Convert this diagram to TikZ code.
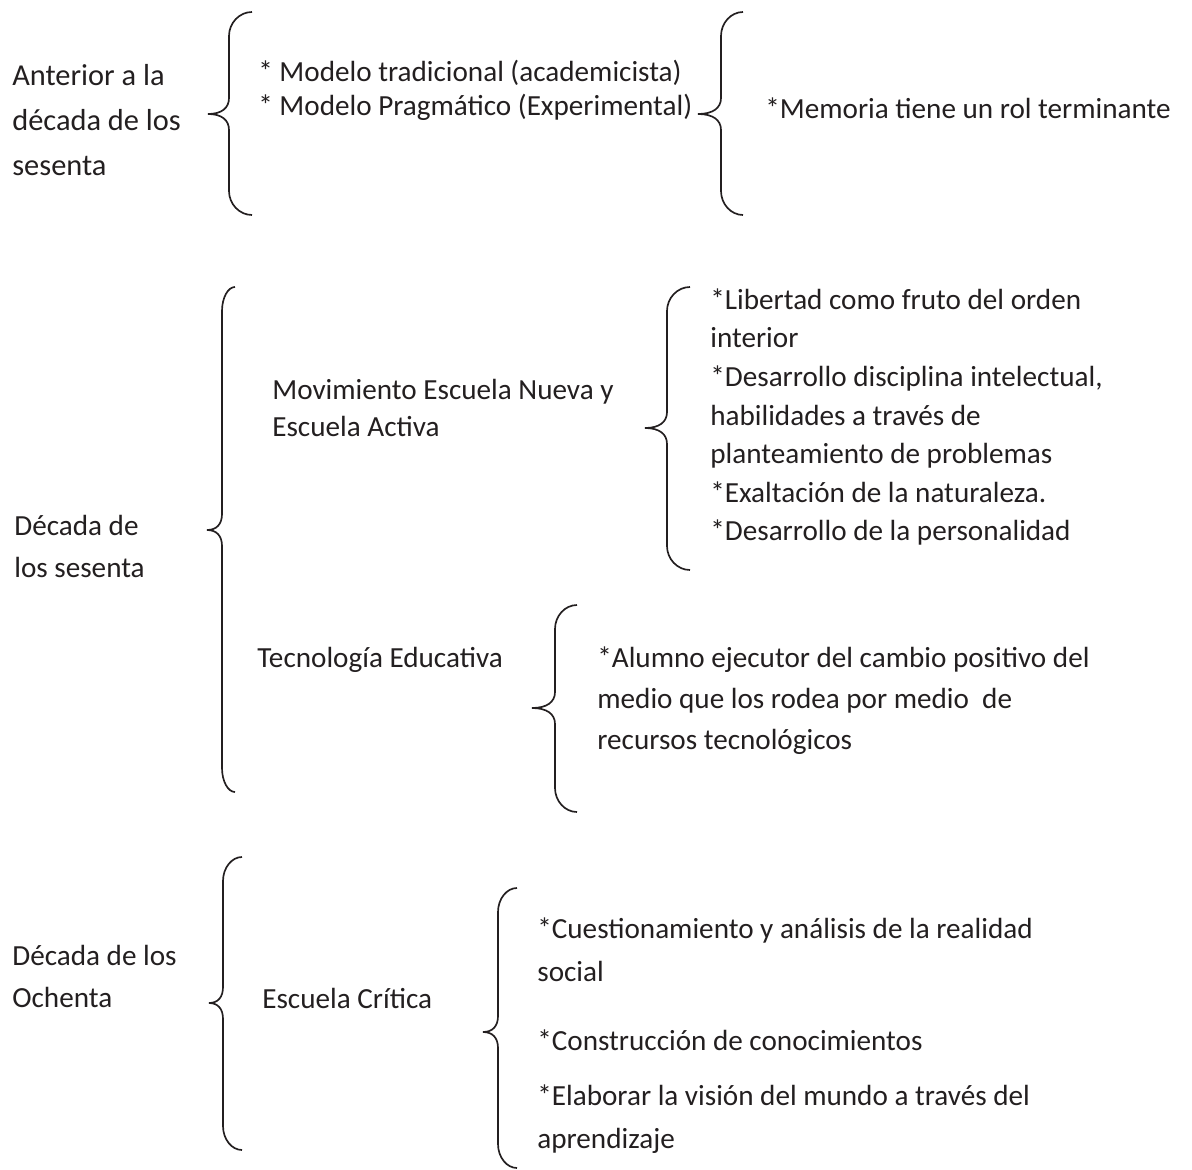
\documentclass[tikz,border=0pt]{standalone}
\usepackage{fontspec}
\setmainfont{Carlito}
\usepackage{tikz}
\usetikzlibrary{positioning}

\definecolor{inkgray}{HTML}{231F20}

% Word style curly brace: end x, stem x, tip x, top y, tip y, bottom y
\newcommand{\wordbrace}[6]{%
  \draw[brace line] (#1,#4)
    .. controls ({#2+0.45*(#1-#2)},#4) and (#2,#4+11) .. (#2,#4+24)
    -- (#2,#5-16)
    .. controls (#2,#5-6) and ({#2-0.35*(#2-#3)},#5) .. (#3,#5)
    .. controls ({#2-0.35*(#2-#3)},#5) and (#2,#5+6) .. (#2,#5+16)
    -- (#2,#6-24)
    .. controls (#2,#6-11) and ({#2+0.45*(#1-#2)},#6) .. (#1,#6);}

\begin{document}
\begin{tikzpicture}[x=0.02cm, y=-0.02cm,
    brace line/.style={draw=inkgray, line width=0.95pt},
    txt/.style={anchor=west, inner sep=0pt, align=left, text=inkgray},
    sp45/.style={font=\fontsize{17.3pt}{25.6pt}\selectfont},
    sp43/.style={font=\fontsize{16.6pt}{24.5pt}\selectfont},
    sp42/.style={font=\fontsize{16.6pt}{23.9pt}\selectfont},
    sp41/.style={font=\fontsize{16.6pt}{23.3pt}\selectfont},
    sp38/.style={font=\fontsize{16.6pt}{22pt}\selectfont},
    sp37/.style={font=\fontsize{16.6pt}{21pt}\selectfont},
    sp34/.style={font=\fontsize{16.6pt}{19.4pt}\selectfont}]
    \useasboundingbox (0,0) rectangle (1192,1169);
    % Braces:
    \wordbrace{252}{229}{208}{12}{114}{215}
    \wordbrace{743}{721}{698}{12}{114}{215}
    \wordbrace{235}{222}{207}{287}{530}{792}
    \wordbrace{690}{667}{645}{287}{428}{570}
    \wordbrace{577}{555}{532}{605}{708}{812}
    \wordbrace{242}{223}{209}{857}{1003}{1150}
    \wordbrace{517}{498}{483}{888}{1032}{1168}
    % Texts:
    \node[txt, sp45](T1) at (12,120){Anterior a la\\década de los\\sesenta};
    \node[txt, sp34](T2) at (258,90){* Modelo tradicional (academicista)\\* Modelo Pragmático (Experimental)};
    \node[txt, sp34](T3) at (765,108){*Memoria tiene un rol terminante};
    \node[txt, sp37](T4) at (272,408){Movimiento Escuela Nueva y\\Escuela Activa};
    \node[txt, sp38](T5) at (710,417){*Libertad como fruto del orden\\interior\\*Desarrollo disciplina intelectual,\\habilidades a través de\\planteamiento de problemas\\*Exaltación de la naturaleza.\\*Desarrollo de la personalidad};
    \node[txt, sp42](T6) at (14,546){Década de\\los sesenta};
    \node[txt, sp42](T7) at (257,660){Tecnología Educativa};
    \node[txt, sp41](T8) at (597,701){*Alumno ejecutor del cambio positivo del\\medio que los rodea por medio\ \ de\\recursos tecnológicos};
    \node[txt, sp42](T9) at (12,976){Década de los\\Ochenta};
    \node[txt, sp42](T10) at (262,998){Escuela Crítica};
    \node[txt, sp43](T11) at (537,1036){*Cuestionamiento y análisis de la realidad\\social\\[14.8pt]*Construcción de conocimientos\\[6.8pt]*Elaborar la visión del mundo a través del\\aprendizaje};
\end{tikzpicture}
\end{document}
